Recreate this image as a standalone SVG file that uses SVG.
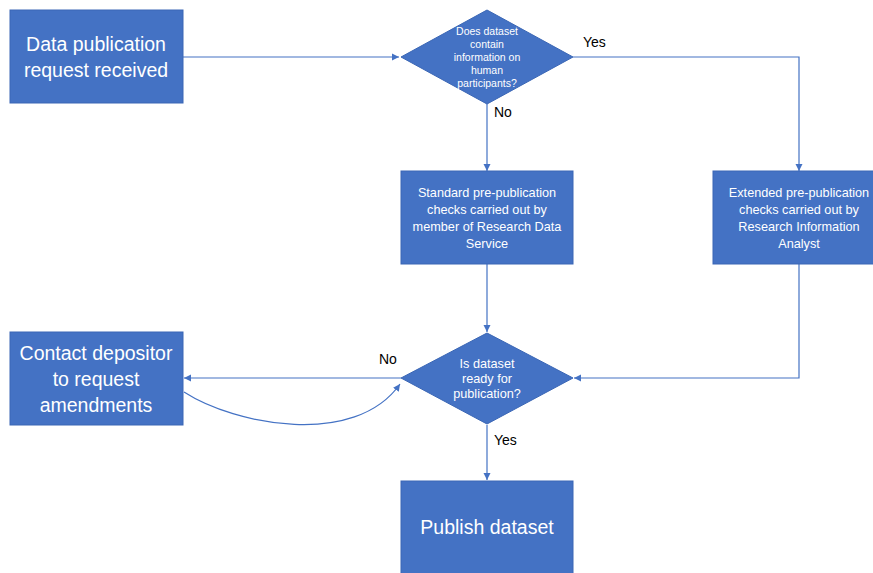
<svg xmlns="http://www.w3.org/2000/svg" width="873" height="573" viewBox="0 0 873 573">
<style>
.node{fill:#4472C4;stroke:#3A66B5;stroke-width:1}
.t{fill:#fff;font-family:"Liberation Sans",Arial,sans-serif;text-anchor:middle}
.big{font-size:19.5px}
.mid{font-size:12.7px}
.sm{font-size:10.5px}
.lbl{fill:#000;font-family:"Liberation Sans",Arial,sans-serif;font-size:14px}
.c{fill:none;stroke:#4472C4;stroke-width:1.2}
</style>
<defs>
<marker id="arr" markerWidth="8" markerHeight="8" refX="7" refY="4" orient="auto" markerUnits="userSpaceOnUse">
<path d="M0,0.5 L7,4 L0,7.5 Z" fill="#4472C4"/>
</marker>
</defs>
<rect width="873" height="573" fill="#fff"/>
<g id="connectors">
<path class="c" d="M183,57 H399" marker-end="url(#arr)"/>
<path class="c" d="M487,104 V171" marker-end="url(#arr)"/>
<path class="c" d="M573,57 H799 V171" marker-end="url(#arr)"/>
<path class="c" d="M487,264 V332" marker-end="url(#arr)"/>
<path class="c" d="M799,264 V378 H574" marker-end="url(#arr)"/>
<path class="c" d="M401,378 H184" marker-end="url(#arr)"/>
<path class="c" d="M184,392 C235,425 355,448 400,384" marker-end="url(#arr)"/>
<path class="c" d="M487,425 V480" marker-end="url(#arr)"/>
</g>
<g id="n-request">
<rect class="node" x="10" y="10" width="173" height="93"/>
<text class="t big" x="96" y="51">Data publication</text>
<text class="t big" x="96" y="77">request received</text>
</g>
<g id="n-human">
<polygon class="node" points="487,10 573,57 487,104 401,57"/>
<text class="t sm" x="487" y="35">Does dataset</text>
<text class="t sm" x="487" y="48">contain</text>
<text class="t sm" x="487" y="61">information on</text>
<text class="t sm" x="487" y="74">human</text>
<text class="t sm" x="487" y="87">participants?</text>
</g>
<g id="n-standard">
<rect class="node" x="401" y="171" width="172" height="93"/>
<text class="t mid" x="487" y="197">Standard pre-publication</text>
<text class="t mid" x="487" y="214">checks carried out by</text>
<text class="t mid" x="487" y="231">member of Research Data</text>
<text class="t mid" x="487" y="248">Service</text>
</g>
<g id="n-extended">
<rect class="node" x="713" y="171" width="172" height="93"/>
<text class="t mid" x="799" y="197">Extended pre-publication</text>
<text class="t mid" x="799" y="214">checks carried out by</text>
<text class="t mid" x="799" y="231">Research Information</text>
<text class="t mid" x="799" y="248">Analyst</text>
</g>
<g id="n-ready">
<polygon class="node" points="487,333 573,378 487,424 401,378"/>
<text class="t mid" x="487" y="368">Is dataset</text>
<text class="t mid" x="487" y="383">ready for</text>
<text class="t mid" x="487" y="398">publication?</text>
</g>
<g id="n-contact">
<rect class="node" x="10" y="332" width="173" height="93"/>
<text class="t big" x="96" y="360">Contact depositor</text>
<text class="t big" x="96" y="386">to request</text>
<text class="t big" x="96" y="412">amendments</text>
</g>
<g id="n-publish">
<rect class="node" x="401" y="481" width="172" height="100"/>
<text class="t big" x="487" y="534">Publish dataset</text>
</g>
<g id="labels">
<text class="lbl" x="583" y="47">Yes</text>
<text class="lbl" x="494" y="117">No</text>
<text class="lbl" x="379" y="364">No</text>
<text class="lbl" x="494" y="445">Yes</text>
</g>
</svg>
